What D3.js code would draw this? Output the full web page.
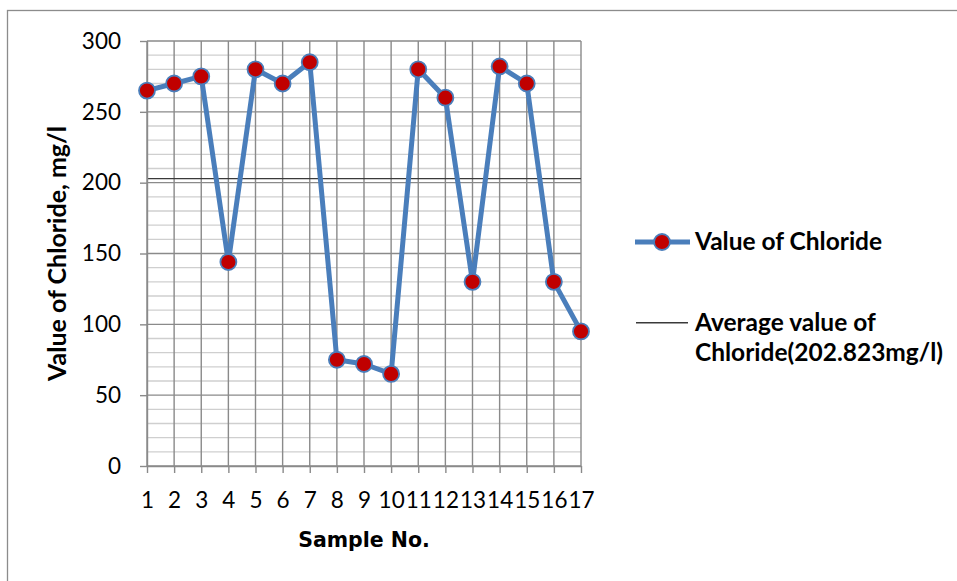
<!DOCTYPE html>
<html>
<head>
<meta charset="utf-8">
<script src="https://cdnjs.cloudflare.com/ajax/libs/d3/7.8.5/d3.min.js"></script>
<style>
  body { margin: 0; background: #fff; }
  .chart text { font-family: Lato, "Liberation Sans", sans-serif; fill: #000; }
</style>
</head>
<body>
<div class="chart"></div>
<script>
var svgWidth = 957;
var svgHeight = 581;

var margin = {
  top: 41,
  right: 376,
  bottom: 115,
  left: 147
};

var width = svgWidth - margin.left - margin.right;
var height = svgHeight - margin.top - margin.bottom;

// chart data
var sampleNo = ["1", "2", "3", "4", "5", "6", "7", "8", "9", "10", "11", "12", "13", "14", "15", "16", "17"];
var chlorideValues = [265, 270, 275, 144, 280, 270, 285, 75, 72, 65, 280, 260, 130, 282, 270, 130, 95];
var averageChloride = 202.823;
var yTickValues = [0, 50, 100, 150, 200, 250, 300];
var seriesLegend = ["Value of Chloride"];
var averageLegend = ["Average value of", "Chloride(202.823mg/l)"];

var gridDark = "#8a8a8a";
var gridLight = "#cfcfcf";
var lineBlue = "#4a7ebb";
var markerRed = "#c00000";

var svg = d3
  .select(".chart")
  .append("svg")
  .attr("width", svgWidth)
  .attr("height", svgHeight);

// outer chart border (runs off the right and bottom edges)
svg.append("rect")
  .attr("x", 7.5)
  .attr("y", 10.5)
  .attr("width", 1000)
  .attr("height", 1000)
  .attr("fill", "none")
  .attr("stroke", "#8c8c8c")
  .attr("stroke-width", 1.3);

var chartGroup = svg.append("g")
  .attr("transform", `translate(${margin.left}, ${margin.top})`);

var xScale = d3.scalePoint()
  .domain(sampleNo)
  .range([0, width]);

var yScale = d3.scaleLinear()
  .domain([0, 300])
  .range([height, 0]);

// minor horizontal gridlines every 10
var minorTicks = yScale.ticks(30).filter(d => d % 50 !== 0);
chartGroup.append("g")
  .selectAll("line")
  .data(minorTicks)
  .enter()
  .append("line")
  .attr("x1", 0)
  .attr("x2", width)
  .attr("y1", d => yScale(d))
  .attr("y2", d => yScale(d))
  .attr("stroke", gridLight)
  .attr("stroke-width", 1.4);

// major horizontal gridlines
chartGroup.append("g")
  .selectAll("line")
  .data(yTickValues)
  .enter()
  .append("line")
  .attr("x1", 0)
  .attr("x2", width)
  .attr("y1", d => yScale(d))
  .attr("y2", d => yScale(d))
  .attr("stroke", gridDark)
  .attr("stroke-width", 1.4);

// vertical gridlines, one per sample
chartGroup.append("g")
  .selectAll("line")
  .data(sampleNo)
  .enter()
  .append("line")
  .attr("x1", d => xScale(d))
  .attr("x2", d => xScale(d))
  .attr("y1", 0)
  .attr("y2", height)
  .attr("stroke", gridDark)
  .attr("stroke-width", 1.4);

// average line
chartGroup.append("line")
  .attr("x1", 0)
  .attr("x2", width)
  .attr("y1", yScale(averageChloride))
  .attr("y2", yScale(averageChloride))
  .attr("stroke", "#3a3a3a")
  .attr("stroke-width", 1.4);

// axes
var leftAxis = d3.axisLeft(yScale)
  .tickValues(yTickValues)
  .tickSize(7)
  .tickSizeOuter(0)
  .tickPadding(19);

var bottomAxis = d3.axisBottom(xScale)
  .tickSize(7)
  .tickSizeOuter(0);

var yAxis = chartGroup.append("g").call(leftAxis);
var xAxis = chartGroup.append("g")
  .attr("transform", `translate(0, ${height})`)
  .call(bottomAxis);

[yAxis, xAxis].forEach(function(axis) {
  axis.selectAll("path, line")
    .attr("stroke", gridDark)
    .attr("stroke-width", 1.4);
  axis.selectAll("text")
    .attr("font-family", "Lato, 'Liberation Sans', sans-serif")
    .attr("font-size", 22.5)
    .attr("fill", "#000");
});

xAxis.selectAll("text")
  .attr("y", 42)
  .attr("dy", 0);

// chloride series
var line = d3.line()
  .x((d, i) => xScale(sampleNo[i]))
  .y(d => yScale(d));

chartGroup.append("path")
  .datum(chlorideValues)
  .attr("d", line)
  .attr("fill", "none")
  .attr("stroke", lineBlue)
  .attr("stroke-width", 5)
  .attr("stroke-linejoin", "round");

chartGroup.append("g")
  .selectAll("circle")
  .data(chlorideValues)
  .enter()
  .append("circle")
  .attr("cx", (d, i) => xScale(sampleNo[i]))
  .attr("cy", d => yScale(d))
  .attr("r", 8)
  .attr("fill", markerRed)
  .attr("stroke", lineBlue)
  .attr("stroke-width", 1.8);

// axis titles
svg.append("text")
  .attr("transform", `translate(66, ${margin.top + height / 2}) rotate(-90)`)
  .attr("text-anchor", "middle")
  .attr("font-weight", "bold")
  .attr("font-size", 25)
  .text("Value of Chloride, mg/l");

svg.append("text")
  .attr("x", margin.left + width / 2)
  .attr("y", 547)
  .attr("text-anchor", "middle")
  .style("font-family", "'DejaVu Sans', sans-serif")
  .attr("font-weight", "bold")
  .attr("font-size", 20.5)
  .text("Sample No.");

// legend
var legend = svg.append("g");

legend.append("line")
  .attr("x1", 635)
  .attr("x2", 690)
  .attr("y1", 242)
  .attr("y2", 242)
  .attr("stroke", lineBlue)
  .attr("stroke-width", 5);

legend.append("circle")
  .attr("cx", 662)
  .attr("cy", 242)
  .attr("r", 8)
  .attr("fill", markerRed)
  .attr("stroke", lineBlue)
  .attr("stroke-width", 1.8);

legend.selectAll(".series-label")
  .data(seriesLegend)
  .enter()
  .append("text")
  .attr("class", "series-label")
  .attr("x", 695)
  .attr("y", 250)
  .attr("font-weight", "bold")
  .attr("font-size", 24.5)
  .text(d => d);

legend.append("line")
  .attr("x1", 636)
  .attr("x2", 688)
  .attr("y1", 322.7)
  .attr("y2", 322.7)
  .attr("stroke", "#3a3a3a")
  .attr("stroke-width", 1.4);

legend.selectAll(".avg-label")
  .data(averageLegend)
  .enter()
  .append("text")
  .attr("class", "avg-label")
  .attr("x", 695)
  .attr("y", (d, i) => 331 + i * 30)
  .attr("font-weight", "bold")
  .attr("font-size", 24.5)
  .text(d => d);
</script>
</body>
</html>
